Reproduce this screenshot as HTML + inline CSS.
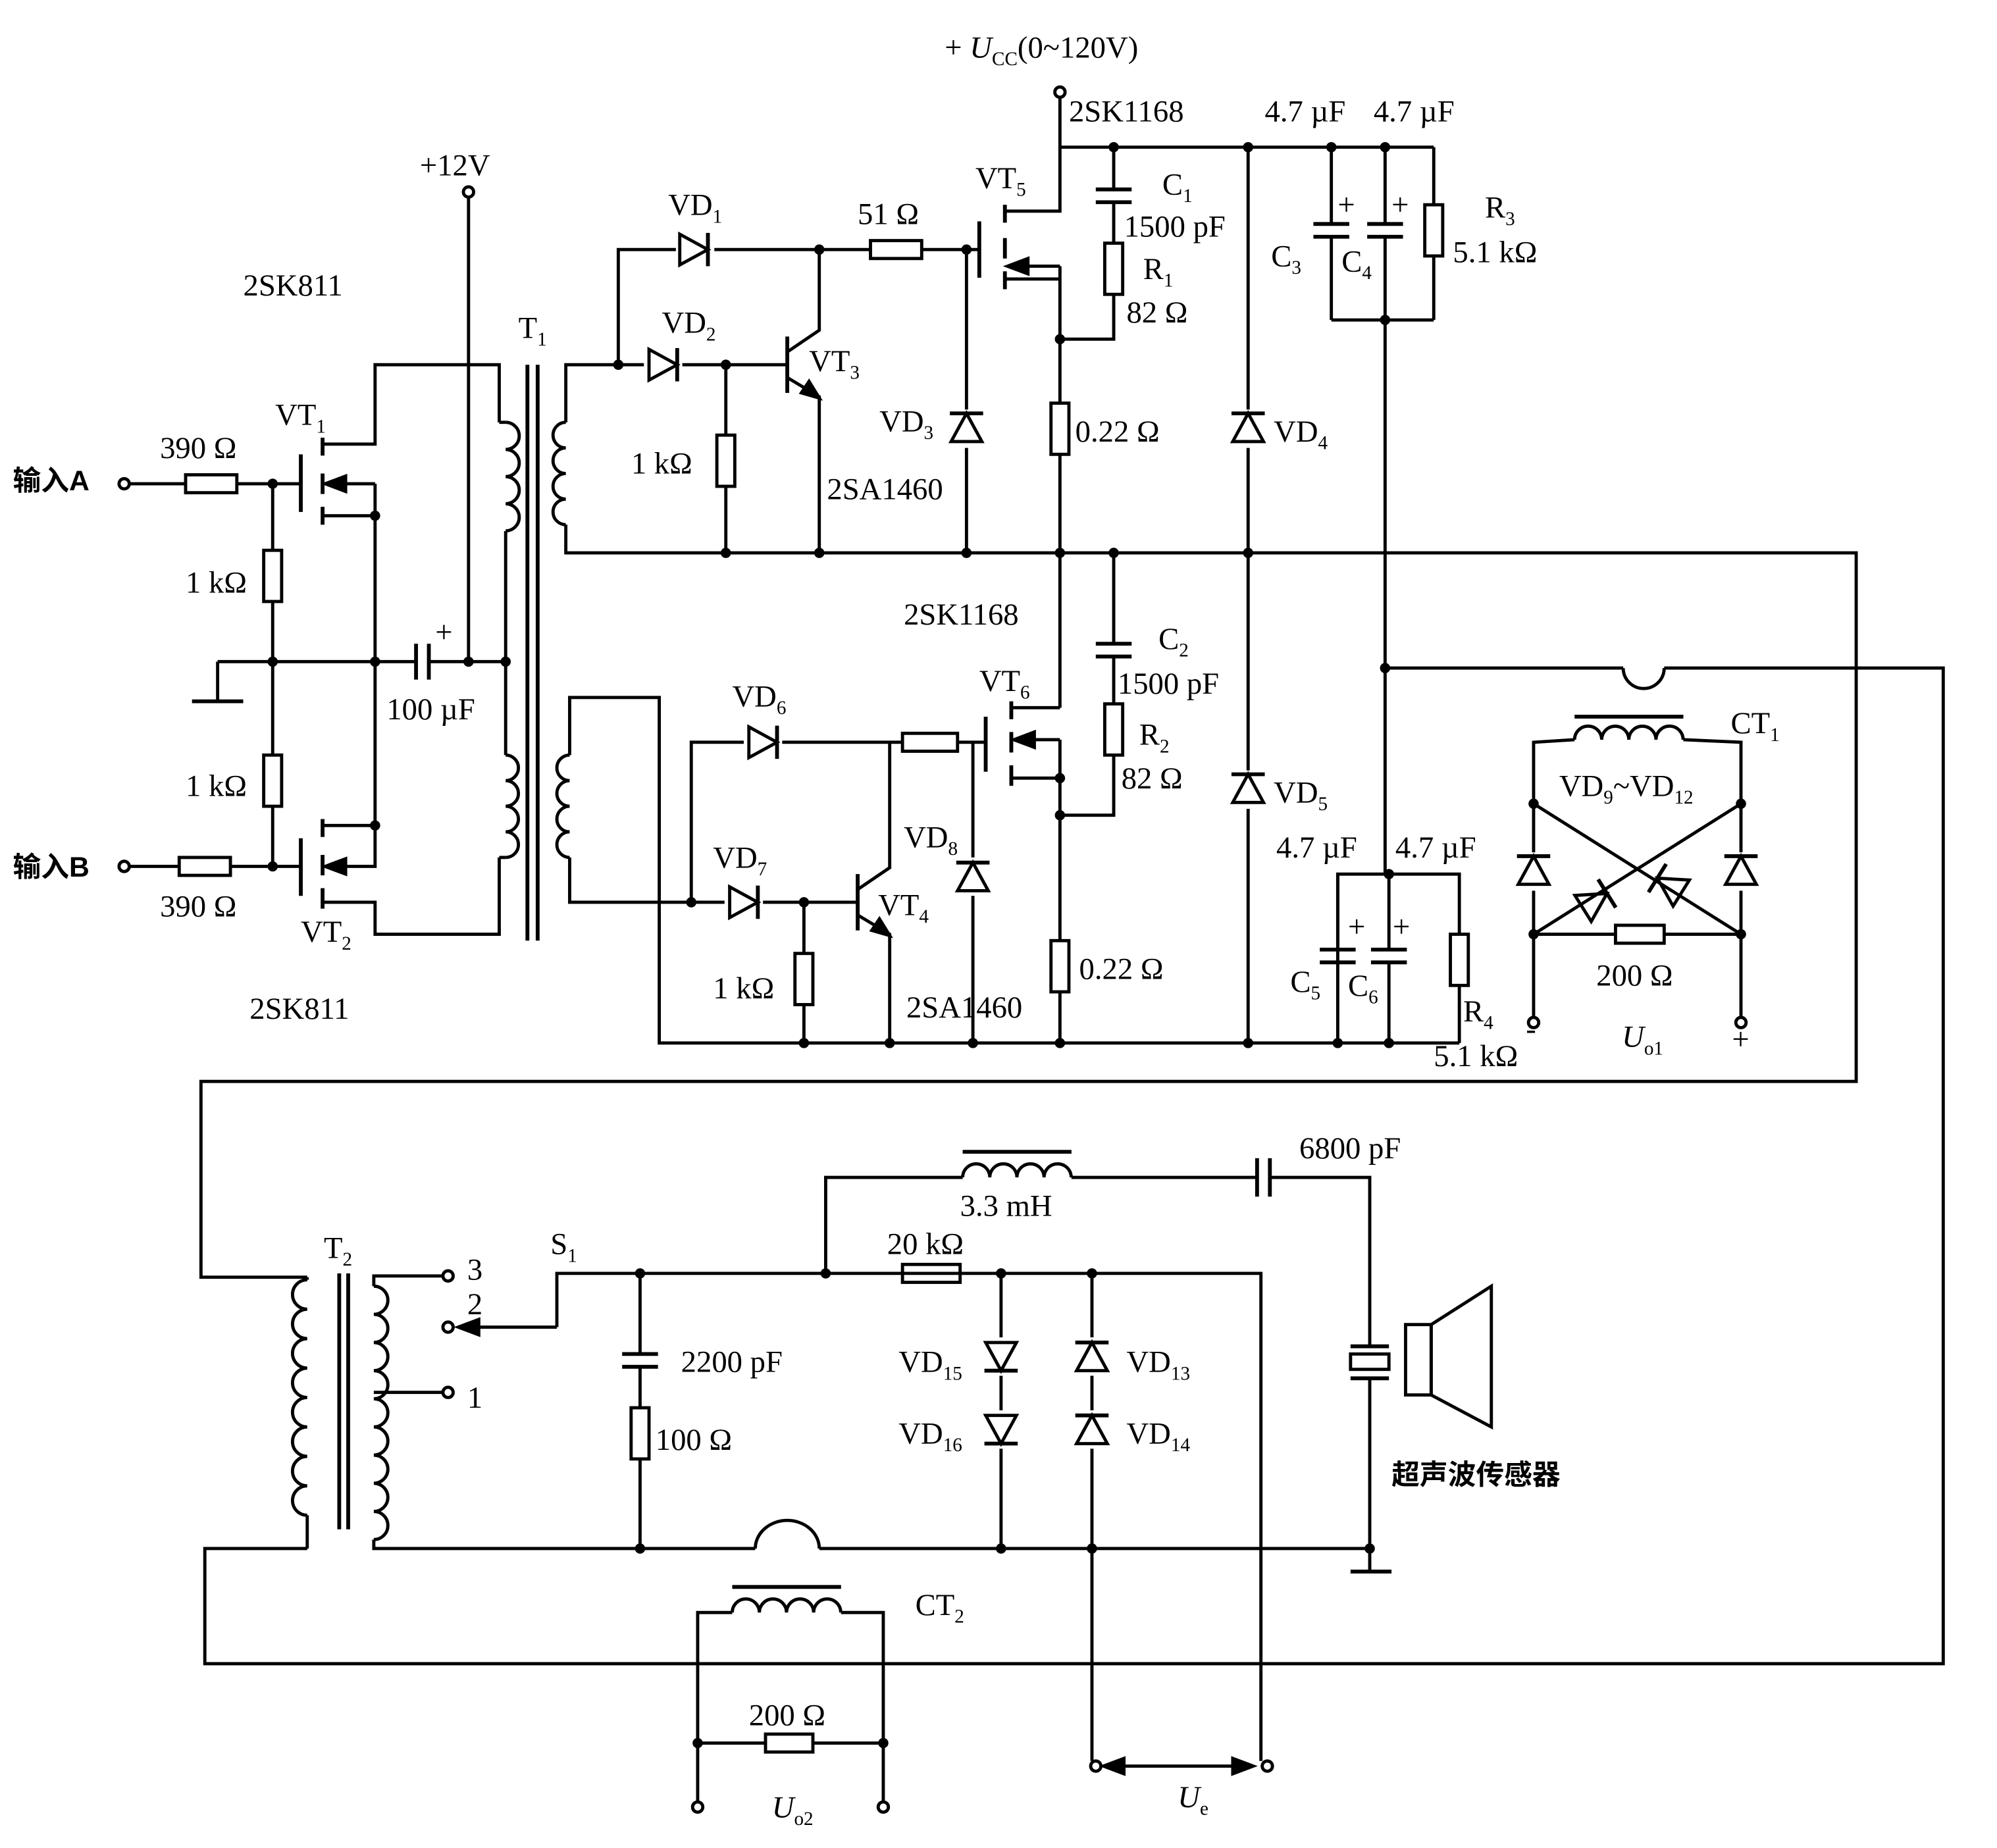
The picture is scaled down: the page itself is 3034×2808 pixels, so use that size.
<!DOCTYPE html>
<html><head><meta charset="utf-8"><style>
html,body{margin:0;padding:0;background:#fff}
svg{display:block}
text{font-family:"Liberation Serif","Noto Serif CJK SC",serif;font-size:24px;fill:#000}
.cj{font-family:"Liberation Sans","Noto Sans CJK SC",sans-serif;font-weight:bold;font-size:22px}
</style></head><body>
<svg width="3034" height="2808" viewBox="0 0 1560 1444" preserveAspectRatio="none" xmlns="http://www.w3.org/2000/svg">
<defs>
<g id="du"><polygon points="-12,11 12,11 0,-11" fill="none" stroke="#000" stroke-width="2.5"/><line x1="-13" y1="-11" x2="13" y2="-11" stroke="#000" stroke-width="3"/></g>
</defs>
<g stroke="#000" stroke-width="2.5" fill="none">
<!-- left inputs -->
<circle cx="97" cy="378" r="4"/><line x1="101" y1="378" x2="145" y2="378"/><rect x="145" y="371" width="40" height="14"/><line x1="185" y1="378" x2="235" y2="378"/>
<circle cx="97" cy="677" r="4"/><line x1="101" y1="677" x2="140" y2="677"/><rect x="140" y="670" width="40" height="14"/><line x1="180" y1="677" x2="235" y2="677"/>
<line x1="213" y1="378" x2="213" y2="430"/><rect x="206" y="430" width="14" height="40"/><line x1="213" y1="470" x2="213" y2="590"/><rect x="206" y="590" width="14" height="40"/><line x1="213" y1="630" x2="213" y2="677"/>
<!-- VT1 -->
<line x1="235" y1="355" x2="235" y2="400" stroke-width="3"/>
<line x1="252" y1="342" x2="252" y2="356" stroke-width="3"/><line x1="252" y1="370" x2="252" y2="386" stroke-width="3"/><line x1="252" y1="396" x2="252" y2="410" stroke-width="3"/>
<polyline points="252,347 293,347 293,285 390,285 390,330"/>
<polyline points="293,378 268,378"/><polygon points="254,378 270,372 270,384" fill="#000"/>
<polyline points="252,403 293,403"/><line x1="293" y1="378" x2="293" y2="645"/>
<!-- VT2 -->
<line x1="235" y1="655" x2="235" y2="700" stroke-width="3"/>
<line x1="252" y1="640" x2="252" y2="654" stroke-width="3"/><line x1="252" y1="668" x2="252" y2="684" stroke-width="3"/><line x1="252" y1="694" x2="252" y2="710" stroke-width="3"/>
<polyline points="252,645 293,645 293,677 268,677"/><polygon points="254,677 270,671 270,683" fill="#000"/>
<polyline points="252,705 293,705 293,730 390,730 390,670"/>
<!-- ground & cap -->
<line x1="170" y1="517" x2="325" y2="517"/><line x1="170" y1="517" x2="170" y2="548"/><line x1="150" y1="548" x2="190" y2="548" stroke-width="3"/>
<line x1="325" y1="503" x2="325" y2="531" stroke-width="3"/><line x1="335" y1="503" x2="335" y2="531" stroke-width="3"/><line x1="335" y1="517" x2="395" y2="517"/>
<line x1="366" y1="154" x2="366" y2="517"/><circle cx="366" cy="150" r="4"/>
<!-- T1 primary -->
<path d="M395 330 a10.6 10.6 0 0 1 0 21.2 a10.6 10.6 0 0 1 0 21.2 a10.6 10.6 0 0 1 0 21.2 a10.6 10.6 0 0 1 0 21.2"/>
<line x1="390" y1="330" x2="395" y2="330"/><line x1="395" y1="415" x2="395" y2="590"/>
<path d="M395 590 a10 10 0 0 1 0 20 a10 10 0 0 1 0 20 a10 10 0 0 1 0 20 a10 10 0 0 1 0 20"/><line x1="390" y1="670" x2="395" y2="670"/>
<line x1="412" y1="285" x2="412" y2="735" stroke-width="3"/><line x1="420" y1="285" x2="420" y2="735" stroke-width="3"/>
<!-- T1 secondary -->
<path d="M442 330 a10 10 0 0 0 0 20 a10 10 0 0 0 0 20 a10 10 0 0 0 0 20 a10 10 0 0 0 0 20"/>
<polyline points="442,330 442,285 505,285"/><polyline points="442,410 442,432 1450,432 1450,845 157,845 157,998 240,998"/>
<path d="M445 590 a10 10 0 0 0 0 20 a10 10 0 0 0 0 20 a10 10 0 0 0 0 20 a10 10 0 0 0 0 20"/>
<polyline points="445,590 445,545 515,545 515,815 1140,815"/><polyline points="445,670 445,705 567,705"/>
<!-- top driver -->
<polyline points="483,285 483,195 530,195"/><line x1="555" y1="195" x2="680" y2="195"/><rect x="680" y="188" width="40" height="14"/><line x1="720" y1="195" x2="765" y2="195"/>
<line x1="530" y1="285" x2="615" y2="285"/>
<line x1="615" y1="263" x2="615" y2="307" stroke-width="3"/><polyline points="615,275 640,258 640,195"/><polyline points="615,295 640,310 640,432"/><polygon points="640,311 626,307 632,298" fill="#000"/>
<line x1="567" y1="285" x2="567" y2="340"/><rect x="560" y="340" width="14" height="40"/><line x1="567" y1="380" x2="567" y2="432"/>
<line x1="755" y1="195" x2="755" y2="432"/>
<!-- VT5 -->
<line x1="765" y1="173" x2="765" y2="217" stroke-width="3"/>
<line x1="785" y1="160" x2="785" y2="174" stroke-width="3"/><line x1="785" y1="186" x2="785" y2="202" stroke-width="3"/><line x1="785" y1="212" x2="785" y2="226" stroke-width="3"/>
<polyline points="785,165 828,165 828,76"/><circle cx="828" cy="72" r="4"/>
<polyline points="785,218 828,218"/><polyline points="828,208 800,208"/><polygon points="787,208 803,202 803,214" fill="#000"/>
<line x1="828" y1="208" x2="828" y2="315"/><rect x="821" y="315" width="14" height="40"/><line x1="828" y1="355" x2="828" y2="553"/>
<line x1="828" y1="115" x2="1120" y2="115"/>
<line x1="870" y1="115" x2="870" y2="148"/><line x1="856" y1="148" x2="884" y2="148" stroke-width="3"/><line x1="856" y1="158" x2="884" y2="158" stroke-width="3"/><line x1="870" y1="158" x2="870" y2="190"/><rect x="863" y="190" width="14" height="40"/><polyline points="870,230 870,265 828,265"/>
<line x1="975" y1="115" x2="975" y2="815"/>
<line x1="1040" y1="115" x2="1040" y2="175"/><line x1="1026" y1="175" x2="1054" y2="175" stroke-width="3"/><line x1="1026" y1="185" x2="1054" y2="185" stroke-width="3"/><line x1="1040" y1="185" x2="1040" y2="250"/>
<line x1="1082" y1="115" x2="1082" y2="175"/><line x1="1068" y1="175" x2="1096" y2="175" stroke-width="3"/><line x1="1068" y1="185" x2="1096" y2="185" stroke-width="3"/><line x1="1082" y1="185" x2="1082" y2="683"/>
<line x1="1120" y1="115" x2="1120" y2="160"/><rect x="1113" y="160" width="14" height="40"/><line x1="1120" y1="200" x2="1120" y2="250"/><line x1="1040" y1="250" x2="1120" y2="250"/>
<!-- bottom driver -->
<polyline points="540,705 540,580 583,580"/><line x1="608" y1="580" x2="705" y2="580"/><rect x="705" y="573" width="43" height="14"/><line x1="748" y1="580" x2="770" y2="580"/>
<line x1="595" y1="705" x2="670" y2="705"/>
<line x1="670" y1="683" x2="670" y2="727" stroke-width="3"/><polyline points="670,695 695,678 695,580"/><polyline points="670,715 695,730 695,815"/><polygon points="695,731 681,727 687,718" fill="#000"/>
<line x1="628" y1="705" x2="628" y2="745"/><rect x="621" y="745" width="14" height="40"/><line x1="628" y1="785" x2="628" y2="815"/>
<line x1="760" y1="580" x2="760" y2="815"/>
<line x1="770" y1="560" x2="770" y2="603" stroke-width="3"/>
<line x1="790" y1="548" x2="790" y2="562" stroke-width="3"/><line x1="790" y1="572" x2="790" y2="588" stroke-width="3"/><line x1="790" y1="598" x2="790" y2="614" stroke-width="3"/>
<polyline points="790,553 828,553"/><polyline points="828,578 805,578"/><polygon points="792,578 808,572 808,584" fill="#000"/><polyline points="790,608 828,608"/>
<line x1="828" y1="578" x2="828" y2="735"/><rect x="821" y="735" width="14" height="40"/><line x1="828" y1="775" x2="828" y2="815"/>
<line x1="870" y1="432" x2="870" y2="503"/><line x1="856" y1="503" x2="884" y2="503" stroke-width="3"/><line x1="856" y1="513" x2="884" y2="513" stroke-width="3"/><line x1="870" y1="513" x2="870" y2="550"/><rect x="863" y="550" width="14" height="40"/><polyline points="870,590 870,637 828,637"/>
<!-- C5 C6 R4 -->
<polyline points="1045,815 1045,683 1140,683 1140,730"/><rect x="1133" y="730" width="14" height="40"/><line x1="1140" y1="770" x2="1140" y2="815"/>
<line x1="1031" y1="742" x2="1059" y2="742" stroke-width="3"/><line x1="1031" y1="752" x2="1059" y2="752" stroke-width="3"/>
<line x1="1071" y1="742" x2="1099" y2="742" stroke-width="3"/><line x1="1071" y1="752" x2="1099" y2="752" stroke-width="3"/>
<line x1="1085" y1="683" x2="1085" y2="742"/><line x1="1085" y1="752" x2="1085" y2="815"/>
<line x1="1045" y1="683" x2="1045" y2="742"/>
<!-- CT1 loop -->
<polyline points="1085,522 1268,522"/><path d="M1268 522 a16 16 0 0 0 32 0"/><polyline points="1300,522 1518,522 1518,1300 160,1300 160,1210 240,1210"/>
<path d="M1230 578 a10.6 10.6 0 0 1 21.2 0 a10.6 10.6 0 0 1 21.2 0 a10.6 10.6 0 0 1 21.2 0 a10.6 10.6 0 0 1 21.2 0"/>
<line x1="1230" y1="560" x2="1315" y2="560" stroke-width="3"/>
<polyline points="1230,578 1198,580 1198,795"/><polyline points="1315,578 1360,580 1360,795"/>
<circle cx="1198" cy="799" r="4"/><circle cx="1360" cy="799" r="4"/>
<line x1="1198" y1="628" x2="1360" y2="730"/><line x1="1360" y1="628" x2="1198" y2="730"/>
<line x1="1198" y1="730" x2="1262" y2="730"/><rect x="1262" y="723" width="38" height="14"/><line x1="1300" y1="730" x2="1360" y2="730"/>
<!-- T2 -->
<path d="M240 1000 a11.5 11.5 0 0 0 0 23 a11.5 11.5 0 0 0 0 23 a11.5 11.5 0 0 0 0 23 a11.5 11.5 0 0 0 0 23 a11.5 11.5 0 0 0 0 23 a11.5 11.5 0 0 0 0 23 a11.5 11.5 0 0 0 0 23 a11.5 11.5 0 0 0 0 23"/>
<line x1="240" y1="998" x2="240" y2="1000"/><line x1="240" y1="1184" x2="240" y2="1210"/>
<line x1="265" y1="995" x2="265" y2="1195" stroke-width="3"/><line x1="272" y1="995" x2="272" y2="1195" stroke-width="3"/>
<path d="M292 1005 a11 11 0 0 1 0 22 a11 11 0 0 1 0 22 a11 11 0 0 1 0 22 a11 11 0 0 1 0 22 a11 11 0 0 1 0 22 a11 11 0 0 1 0 22 a11 11 0 0 1 0 22 a11 11 0 0 1 0 22 a11 11 0 0 1 0 22"/>
<polyline points="292,1005 292,997 346,997"/><circle cx="350" cy="997" r="4"/>
<polyline points="292,1088 346,1088"/><circle cx="350" cy="1088" r="4"/>
<circle cx="350" cy="1037" r="4"/>
<line x1="435" y1="1037" x2="370" y2="1037"/><polygon points="358,1037 374,1031 374,1043" fill="#000"/>
<polyline points="435,1037 435,995 985,995 985,1376"/><circle cx="990" cy="1380" r="4"/>
<polyline points="292,1203 292,1210 590,1210"/><path d="M590 1210 a25 22 0 0 1 50 0"/><line x1="640" y1="1210" x2="1070" y2="1210"/>
<!-- 2200pF -->
<line x1="500" y1="995" x2="500" y2="1058"/><line x1="486" y1="1058" x2="514" y2="1058" stroke-width="3"/><line x1="486" y1="1068" x2="514" y2="1068" stroke-width="3"/><line x1="500" y1="1068" x2="500" y2="1100"/><rect x="493" y="1100" width="14" height="40"/><line x1="500" y1="1140" x2="500" y2="1210"/>
<!-- inductor path -->
<polyline points="645,995 645,920 752,920"/>
<path d="M752 920 a10.6 10.6 0 0 1 21.2 0 a10.6 10.6 0 0 1 21.2 0 a10.6 10.6 0 0 1 21.2 0 a10.6 10.6 0 0 1 21.2 0"/>
<line x1="752" y1="900" x2="837" y2="900" stroke-width="3"/>
<line x1="837" y1="920" x2="982" y2="920"/><line x1="982" y1="905" x2="982" y2="935" stroke-width="3"/><line x1="992" y1="905" x2="992" y2="935" stroke-width="3"/>
<polyline points="992,920 1070,920 1070,1052"/><line x1="1070" y1="1078" x2="1070" y2="1228"/>
<line x1="1055" y1="1052" x2="1085" y2="1052" stroke-width="3"/><rect x="1055" y="1058" width="30" height="12"/><line x1="1055" y1="1077" x2="1085" y2="1077" stroke-width="3"/>
<line x1="1055" y1="1228" x2="1087" y2="1228" stroke-width="3"/>
<rect x="1098" y="1035" width="20" height="55"/><polygon points="1118,1035 1165,1005 1165,1115 1118,1090"/>
<!-- VD15-16, 13-14 -->
<line x1="782" y1="995" x2="782" y2="1210"/><line x1="853" y1="995" x2="853" y2="1376"/><circle cx="856" cy="1380" r="4"/>
<line x1="705" y1="995" x2="705" y2="995"/><rect x="705" y="988" width="45" height="14"/>
<!-- Ue arrow -->
<line x1="875" y1="1380" x2="966" y2="1380"/><polygon points="862,1380 878,1374 878,1386" fill="#000"/><polygon points="979,1380 963,1374 963,1386" fill="#000"/>
<!-- CT2 -->
<path d="M572 1260 a10.6 10.6 0 0 1 21.2 0 a10.6 10.6 0 0 1 21.2 0 a10.6 10.6 0 0 1 21.2 0 a10.6 10.6 0 0 1 21.2 0"/>
<line x1="572" y1="1240" x2="657" y2="1240" stroke-width="3"/>
<polyline points="572,1260 545,1260 545,1408"/><polyline points="657,1260 690,1260 690,1408"/>
<circle cx="545" cy="1412" r="4"/><circle cx="690" cy="1412" r="4"/>
<line x1="545" y1="1362" x2="598" y2="1362"/><rect x="598" y="1355" width="37" height="14"/><line x1="635" y1="1362" x2="690" y2="1362"/>
</g>
<!-- diodes -->
<g fill="#fff">
<rect x="528" y="183" width="30" height="25" fill="#fff"/>
<use href="#du" transform="translate(542,195) rotate(90)"/>
<rect x="503" y="273" width="30" height="25"/><use href="#du" transform="translate(518,285) rotate(90)"/>
<rect x="742" y="320" width="26" height="30"/><use href="#du" transform="translate(755,334)"/>
<rect x="962" y="320" width="26" height="30"/><use href="#du" transform="translate(975,334)"/>
<rect x="962" y="602" width="26" height="30"/><use href="#du" transform="translate(975,616)"/>
<rect x="581" y="568" width="30" height="25"/><use href="#du" transform="translate(596,580) rotate(90)"/>
<rect x="566" y="693" width="30" height="25"/><use href="#du" transform="translate(581,705) rotate(90)"/>
<rect x="747" y="670" width="26" height="30"/><use href="#du" transform="translate(760,685)"/>
<rect x="1185" y="666" width="26" height="30"/><use href="#du" transform="translate(1198,680)"/>
<rect x="1347" y="666" width="26" height="30"/><use href="#du" transform="translate(1360,680)"/>
<use href="#du" transform="translate(1246,704) rotate(58)"/>
<use href="#du" transform="translate(1304,692) rotate(-58)"/>
<rect x="769" y="1045" width="26" height="30"/><use href="#du" transform="translate(782,1060) rotate(180)"/>
<rect x="769" y="1102" width="26" height="30"/><use href="#du" transform="translate(782,1117) rotate(180)"/>
<rect x="840" y="1045" width="26" height="30"/><use href="#du" transform="translate(853,1060)"/>
<rect x="840" y="1102" width="26" height="30"/><use href="#du" transform="translate(853,1117)"/>
</g>
<!-- dots -->
<g fill="#000">
<circle cx="213" cy="378" r="4"/><circle cx="213" cy="677" r="4"/><circle cx="213" cy="517" r="4"/><circle cx="293" cy="403" r="4"/><circle cx="293" cy="645" r="4"/><circle cx="293" cy="517" r="4"/><circle cx="366" cy="517" r="4"/><circle cx="395" cy="517" r="4"/>
<circle cx="483" cy="285" r="4"/><circle cx="640" cy="195" r="4"/><circle cx="755" cy="195" r="4"/><circle cx="567" cy="285" r="4"/>
<circle cx="567" cy="432" r="4"/><circle cx="640" cy="432" r="4"/><circle cx="755" cy="432" r="4"/><circle cx="828" cy="432" r="4"/><circle cx="870" cy="432" r="4"/><circle cx="975" cy="432" r="4"/>
<circle cx="870" cy="115" r="4"/><circle cx="975" cy="115" r="4"/><circle cx="1040" cy="115" r="4"/><circle cx="1082" cy="115" r="4"/><circle cx="828" cy="265" r="4"/><circle cx="1082" cy="250" r="4"/><circle cx="1082" cy="522" r="4"/>
<circle cx="540" cy="705" r="4"/><circle cx="628" cy="705" r="4"/><circle cx="828" cy="637" r="4"/><circle cx="828" cy="608" r="4"/>
<circle cx="628" cy="815" r="4"/><circle cx="695" cy="815" r="4"/><circle cx="760" cy="815" r="4"/><circle cx="828" cy="815" r="4"/><circle cx="975" cy="815" r="4"/><circle cx="1045" cy="815" r="4"/><circle cx="1085" cy="815" r="4"/><circle cx="1085" cy="683" r="4"/>
<circle cx="1198" cy="628" r="4"/><circle cx="1360" cy="628" r="4"/><circle cx="1198" cy="730" r="4"/><circle cx="1360" cy="730" r="4"/>
<circle cx="500" cy="995" r="4"/><circle cx="645" cy="995" r="4"/><circle cx="782" cy="995" r="4"/><circle cx="853" cy="995" r="4"/>
<circle cx="500" cy="1210" r="4"/><circle cx="782" cy="1210" r="4"/><circle cx="853" cy="1210" r="4"/><circle cx="1070" cy="1210" r="4"/>
<circle cx="545" cy="1362" r="4"/><circle cx="690" cy="1362" r="4"/>
</g>
<!-- labels -->
<text x="10" y="383" class="cj">输入A</text>
<text x="10" y="685" class="cj">输入B</text>
<text x="125" y="358">390 Ω</text>
<text x="145" y="463">1 kΩ</text>
<text x="145" y="622">1 kΩ</text>
<text x="125" y="716">390 Ω</text>
<text x="190" y="231">2SK811</text>
<text x="195" y="796">2SK811</text>
<text x="215" y="332">VT<tspan font-size="15" dy="6">1</tspan></text>
<text x="235" y="736">VT<tspan font-size="15" dy="6">2</tspan></text>
<text x="328" y="137">+12V</text>
<text x="405" y="264">T<tspan font-size="15" dy="6">1</tspan></text>
<text x="340" y="502" font-size="20">+</text>
<text x="302" y="562">100 µF</text>
<text x="522" y="168">VD<tspan font-size="15" dy="6">1</tspan></text>
<text x="517" y="260">VD<tspan font-size="15" dy="6">2</tspan></text>
<text x="670" y="175">51 Ω</text>
<text x="493" y="370">1 kΩ</text>
<text x="632" y="290">VT<tspan font-size="15" dy="6">3</tspan></text>
<text x="687" y="337">VD<tspan font-size="15" dy="6">3</tspan></text>
<text x="646" y="390">2SA1460</text>
<text x="738" y="45">+ <tspan font-style="italic">U</tspan><tspan font-size="15" dy="6">CC</tspan><tspan dy="-6">(0~120V)</tspan></text>
<text x="835" y="95">2SK1168</text>
<text x="762" y="147">VT<tspan font-size="15" dy="6">5</tspan></text>
<text x="908" y="152">C<tspan font-size="15" dy="6">1</tspan></text>
<text x="878" y="185">1500 pF</text>
<text x="893" y="218">R<tspan font-size="15" dy="6">1</tspan></text>
<text x="880" y="252">82 Ω</text>
<text x="840" y="345">0.22 Ω</text>
<text x="988" y="95">4.7 µF</text>
<text x="1073" y="95">4.7 µF</text>
<text x="1045" y="168" font-size="20">+</text>
<text x="1087" y="168" font-size="20">+</text>
<text x="993" y="208">C<tspan font-size="15" dy="6">3</tspan></text>
<text x="1048" y="212">C<tspan font-size="15" dy="6">4</tspan></text>
<text x="1160" y="170">R<tspan font-size="15" dy="6">3</tspan></text>
<text x="1135" y="205">5.1 kΩ</text>
<text x="995" y="345">VD<tspan font-size="15" dy="6">4</tspan></text>
<text x="706" y="488">2SK1168</text>
<text x="905" y="507">C<tspan font-size="15" dy="6">2</tspan></text>
<text x="873" y="542">1500 pF</text>
<text x="890" y="582">R<tspan font-size="15" dy="6">2</tspan></text>
<text x="876" y="616">82 Ω</text>
<text x="765" y="540">VT<tspan font-size="15" dy="6">6</tspan></text>
<text x="572" y="552">VD<tspan font-size="15" dy="6">6</tspan></text>
<text x="557" y="678">VD<tspan font-size="15" dy="6">7</tspan></text>
<text x="706" y="662">VD<tspan font-size="15" dy="6">8</tspan></text>
<text x="686" y="715">VT<tspan font-size="15" dy="6">4</tspan></text>
<text x="557" y="780">1 kΩ</text>
<text x="708" y="795">2SA1460</text>
<text x="843" y="765">0.22 Ω</text>
<text x="995" y="627">VD<tspan font-size="15" dy="6">5</tspan></text>
<text x="997" y="670">4.7 µF</text>
<text x="1090" y="670">4.7 µF</text>
<text x="1053" y="732" font-size="20">+</text>
<text x="1088" y="732" font-size="20">+</text>
<text x="1008" y="775">C<tspan font-size="15" dy="6">5</tspan></text>
<text x="1053" y="778">C<tspan font-size="15" dy="6">6</tspan></text>
<text x="1143" y="798">R<tspan font-size="15" dy="6">4</tspan></text>
<text x="1120" y="833">5.1 kΩ</text>
<text x="1352" y="573">CT<tspan font-size="15" dy="6">1</tspan></text>
<text x="1218" y="622">VD<tspan font-size="15" dy="6">9</tspan><tspan dy="-6">~VD</tspan><tspan font-size="15" dy="6">12</tspan></text>
<text x="1247" y="770">200 Ω</text>
<text x="1192" y="812" font-size="22">-</text>
<text x="1353" y="820" font-size="22">+</text>
<text x="1267" y="818" font-style="italic">U<tspan font-size="15" dy="6" font-style="normal">o1</tspan></text>
<text x="253" y="983">T<tspan font-size="15" dy="6">2</tspan></text>
<text x="365" y="1000">3</text><text x="365" y="1027">2</text><text x="365" y="1100">1</text>
<text x="430" y="980">S<tspan font-size="15" dy="6">1</tspan></text>
<text x="750" y="950">3.3 mH</text>
<text x="1015" y="905">6800 pF</text>
<text x="693" y="980">20 kΩ</text>
<text x="532" y="1072">2200 pF</text>
<text x="512" y="1133">100 Ω</text>
<text x="702" y="1072">VD<tspan font-size="15" dy="6">15</tspan></text>
<text x="702" y="1128">VD<tspan font-size="15" dy="6">16</tspan></text>
<text x="880" y="1072">VD<tspan font-size="15" dy="6">13</tspan></text>
<text x="880" y="1128">VD<tspan font-size="15" dy="6">14</tspan></text>
<text x="1087" y="1160" class="cj">超声波传感器</text>
<text x="715" y="1262">CT<tspan font-size="15" dy="6">2</tspan></text>
<text x="585" y="1348">200 Ω</text>
<text x="603" y="1420" font-style="italic">U<tspan font-size="15" dy="6" font-style="normal">o2</tspan></text>
<text x="920" y="1412" font-style="italic">U<tspan font-size="15" dy="6" font-style="normal">e</tspan></text>
</svg>
</body></html>
